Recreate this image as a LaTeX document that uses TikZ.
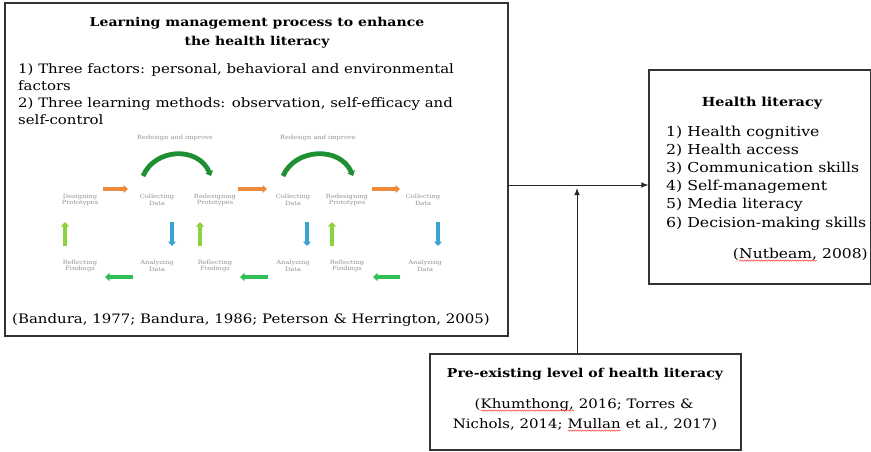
\documentclass[tikz,border=0pt]{standalone}
\usepackage{fontspec}
\setmainfont[FakeStretch=1.15]{DejaVu Serif}
\usetikzlibrary{arrows.meta,decorations.pathmorphing}
\newcommand\sqw[1]{\tikz[baseline=(w.base),x=1pt,y=1pt]{\node[inner sep=0pt,outer sep=0pt](w){#1};\draw[red!75,line width=0.5pt,decorate,decoration={snake,amplitude=0.7pt,segment length=2.4pt}]([yshift=-2.6pt]w.base west)--([yshift=-2.6pt]w.base east);}}
\begin{document}
\begin{tikzpicture}[x=1pt,y=-1pt,
  box/.style={draw=black!80, line width=1.1pt, inner sep=0pt, fill=white},
  ltxt/.style={font=\fontsize{13}{15}\selectfont, inner sep=0pt, anchor=base west},
  rtxt/.style={font=\fontsize{13.7}{16}\selectfont, inner sep=0pt, anchor=base west},
  ttl/.style={font=\fontsize{12.2}{14}\selectfont\bfseries, inner sep=0pt, anchor=base},
  ctr/.style={font=\fontsize{13}{15}\selectfont, inner sep=0pt, anchor=base},
  lab/.style={font=\fontsize{5.8}{6.8}\selectfont, text=black!42, align=center, inner sep=0.5pt},
  conn/.style={draw=black!85, line width=0.9pt, -{Latex[length=7pt,width=5.5pt]}},
  fat/.style={line width=4.2pt, -{Triangle[length=4.5pt,width=8pt]}},
]
\useasboundingbox (0,0) rectangle (871,451);
% boxes
\node[box, minimum width=503pt, minimum height=333pt] (lm) at (256.5,169.5) {};
\node[box, minimum width=222pt, minimum height=214pt] (hl) at (760,177) {};
\node[box, minimum width=311pt, minimum height=96pt] (pe) at (585.5,402) {};
% connectors
\coordinate (j) at (577,185);
\draw[conn] (lm.east |- j) -- (hl.west |- j);
\draw[conn] (j |- pe.north) -- ([yshift=-3pt]j);
% left box text
\node[ttl] (t1) at (257,26) {Learning management process to enhance};
\node[ttl] (t2) at (257,45) {the health literacy};
\node[ltxt] (l1) at (18,73) {1) Three factors: personal, behavioral and environmental};
\node[ltxt] (l2) at (18,90) {factors};
\node[ltxt] (l3) at (18,107) {2) Three learning methods: observation, self-efficacy and};
\node[ltxt] (l4) at (18,124) {self-control};
\node[ltxt] (lc) at (12,323) {(Bandura, 1977; Bandura, 1986; Peterson \& Herrington, 2005)};
% right box text
\node[ttl, font=\fontsize{12.5}{14}\selectfont\bfseries] (ht) at (762,106) {Health literacy};
\node[rtxt] (h1) at (666,136) {1) Health cognitive};
\node[rtxt] (h2) at (666,154) {2) Health access};
\node[rtxt] (h3) at (666,172) {3) Communication skills};
\node[rtxt] (h4) at (666,190) {4) Self-management};
\node[rtxt] (h5) at (666,208) {5) Media literacy};
\node[rtxt] (h6) at (666,227) {6) Decision-making skills};
\node[rtxt, anchor=base east, font=\fontsize{13.5}{16}\selectfont] (hn) at (868,258) {(\sqw{Nutbeam,} 2008)};
% bottom box text
\node[ttl] (pt) at (585,377) {Pre-existing level of health literacy};
\node[ctr] (p1) at (584,408) {(\sqw{Khumthong,} 2016; Torres \&};
\node[ctr] (p2) at (585,428) {Nichols, 2014; \sqw{Mullan} et al., 2017)};
% cycle diagram labels
\node[lab] (im1) at (175,138) {Redesign and improve};
\node[lab] (im2) at (318,138) {Redesign and improve};
\node[lab] (dp1) at (80,200) {Designing\\Prototypes};
\node[lab] (cd1) at (157,200) {Collecting\\Data};
\node[lab] (rp1) at (215,200) {Redesigning\\Prototypes};
\node[lab] (cd2) at (293,200) {Collecting\\Data};
\node[lab] (rp2) at (347,200) {Redesigning\\Prototypes};
\node[lab] (cd3) at (423,200) {Collecting\\Data};
\node[lab] (rf1) at (80,266) {Reflecting\\Findings};
\node[lab] (ad1) at (157,266) {Analyzing\\Data};
\node[lab] (rf2) at (215,266) {Reflecting\\Findings};
\node[lab] (ad2) at (293,266) {Analyzing\\Data};
\node[lab] (rf3) at (347,266) {Reflecting\\Findings};
\node[lab] (ad3) at (425,266) {Analyzing\\Data};
% cycle arrows
\definecolor{corange}{HTML}{EE8A3C}
\definecolor{cblue}{HTML}{3AA3D3}
\definecolor{clime}{HTML}{8CD23C}
\definecolor{cgreen}{HTML}{2FBF55}
\definecolor{carc}{HTML}{1F8F34}
\foreach \a/\b in {103/128, 238/267, 372/400}
  \draw[fat, corange] (\a,189) -- (\b,189);
\foreach \x in {172, 307, 438}
  \draw[fat, cblue] (\x,222) -- (\x,246);
\foreach \x in {65, 200, 332}
  \draw[fat, clime] (\x,246) -- (\x,222);
\foreach \a/\b in {105/133, 240/268, 373/400}
  \draw[fat, cgreen] (\b,277) -- (\a,277);
\draw[fat, carc, line width=4.8pt] (143,176) .. controls (155,148) and (198,146) .. (211,176);
\draw[fat, carc, line width=4.8pt] (283,176) .. controls (295,148) and (340,146) .. (353,176);
\end{tikzpicture}
\end{document}
